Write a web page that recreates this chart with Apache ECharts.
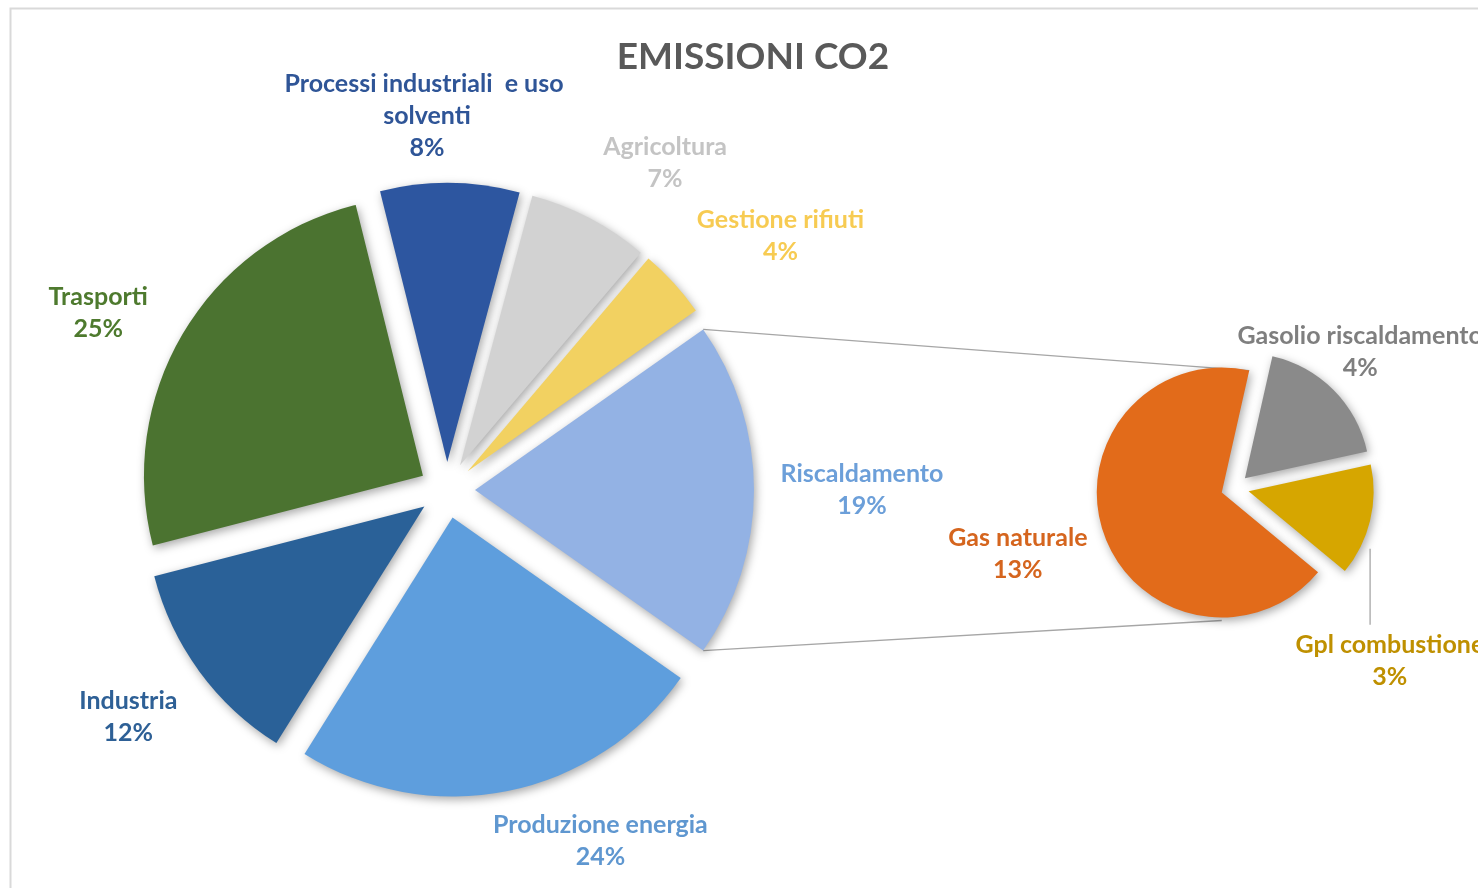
<!DOCTYPE html>
<html>
<head>
<meta charset="utf-8">
<script src="https://cdn.jsdelivr.net/npm/echarts@6/dist/echarts.min.js"></script>
<style>
html,body{margin:0;padding:0;background:#ffffff;}
#chart{width:1478px;height:888px;}
</style>
</head>
<body>
<div id="chart"></div>
<script>
// ---------- DATA ----------
const titleText = 'EMISSIONI CO2';
const mainCategories = ['Riscaldamento', 'Produzione energia', 'Industria', 'Trasporti',
  'Processi industriali  e uso solventi', 'Agricoltura', 'Gestione rifiuti'];
const mainValues = [19.4, 24, 12, 25, 8, 7, 4];          // % of total CO2
const subCategories = ['Gasolio riscaldamento', 'Gpl combustione', 'Gas naturale'];
const subValues = [3.5, 2.8, 13.1];                       // breakdown of Riscaldamento

// ---------- STYLE / LAYOUT ----------
const mainColors = ['#93B2E4', '#5E9EDD', '#2A6198', '#4B7330', '#2D56A0', '#D2D2D2', '#F2D161'];
const mainLabelColors = ['#6C9FD9', '#5F97D0', '#2E6096', '#4E7A2E', '#2F5597', '#C4C4C4', '#F7CB52'];
const subColors = ['#8A8A8A', '#D6A600', '#E26B1A'];
const subLabelColors = ['#7F7F7F', '#BF9000', '#D5651E'];
const MAIN = { cx: 447, cy: 490, r: 279, off: 28 };
const SUB = { cx: 1235, cy: 488, r: 125, off: 14, startCW: 12.7 };
// label placement: [angle shift from slice middle (deg), distance from pie centre (px)]
const mainLabelPlace = [[0, 415], [-12.2, 383], [0.8, 391], [-3.9, 391], [-3.6, 375], [6, 393], [5.1, 419]];
const subLabelPlace = [[-2.6, 185], [34.5, 232], [1.9, 227]];
const FONT = 'Lato';
const LABEL_FONT = 'bold 25px ' + FONT;

// ---------- GEOMETRY HELPERS ----------
const sum = a => a.reduce((s, v) => s + v, 0);
const mainStartCW = 90 - (mainValues[0] / sum(mainValues)) * 180; // "other" slice centred at 3 o'clock
function sliceAngles(values, startCW) {
  const tot = sum(values); let acc = startCW; const out = [];
  values.forEach(v => { const span = v / tot * 360; out.push({ s: acc, e: acc + span, m: acc + span / 2 }); acc += span; });
  return out;
}
const mainAng = sliceAngles(mainValues, mainStartCW);
const subAng = sliceAngles(subValues, SUB.startCW);
const rad = d => d * Math.PI / 180;
const polar = (cx, cy, r, deg) => [cx + r * Math.sin(rad(deg)), cy - r * Math.cos(rad(deg))];

function labelText(name, v) { return name + '\n' + Math.round(v) + '%'; }

function makeData(cats, vals, colors) {
  return cats.map((c, i) => ({
    name: c, value: vals[i], selected: true,
    itemStyle: { color: colors[i] }
  }));
}

const commonSeries = {
  type: 'pie',
  selectedMode: 'multiple',
  clockwise: true,
  emphasis: { disabled: true },
  select: { itemStyle: { borderWidth: 0 } },
  itemStyle: {
    borderWidth: 0,
    shadowBlur: 10, shadowColor: 'rgba(0,0,0,0.35)', shadowOffsetX: 2, shadowOffsetY: 3
  },
  label: { show: false },
  labelLine: { show: false }
};

// data labels as text elements, positioned from the slice geometry
function labelGraphics(cats, vals, ang, place, colors, P) {
  return cats.map((c, i) => {
    const pt = polar(P.cx, P.cy, place[i][1], ang[i].m + place[i][0]);
    return {
      type: 'text', z: 100,
      style: {
        text: labelText(c, vals[i]), x: pt[0], y: pt[1],
        align: 'center', verticalAlign: 'middle',
        font: LABEL_FONT, lineHeight: 32, fill: colors[i],
        width: 300, overflow: 'break'
      }
    };
  });
}

// connector lines derived from the layout
const risMainCentre = polar(MAIN.cx, MAIN.cy, MAIN.off, mainAng[0].m);
const pTop = polar(risMainCentre[0], risMainCentre[1], MAIN.r, mainAng[0].s);
const pBot = polar(risMainCentre[0], risMainCentre[1], MAIN.r, mainAng[0].e);
const gasCentre = polar(SUB.cx, SUB.cy, SUB.off, subAng[2].m);
const qTop = polar(gasCentre[0], gasCentre[1], SUB.r, subAng[2].e);
const qBot = polar(gasCentre[0], gasCentre[1], SUB.r + 3, 180);
const gplCentre = polar(SUB.cx, SUB.cy, SUB.off, subAng[1].m);
const gplArc = polar(gplCentre[0], gplCentre[1], SUB.r, subAng[1].m);
const gplLab = polar(SUB.cx, SUB.cy, subLabelPlace[1][1], subAng[1].m + subLabelPlace[1][0]);

const chart = echarts.init(document.getElementById('chart'));
chart.setOption({
  animation: false,
  backgroundColor: '#ffffff',
  title: {
    text: titleText, left: 748, top: 34, textAlign: 'center',
    textStyle: { fontFamily: FONT, fontWeight: 'bold', fontSize: 37, color: '#595959' }
  },
  graphic: [
    { type: 'rect', z: -10, shape: { x: 10.5, y: 8.5, width: 1600, height: 1000 },
      style: { fill: 'none', stroke: '#D9D9D9', lineWidth: 2 } },
    { type: 'line', z: 0, shape: { x1: pTop[0], y1: pTop[1], x2: qTop[0], y2: qTop[1] },
      style: { stroke: '#A6A6A6', lineWidth: 1.3 } },
    { type: 'line', z: 0, shape: { x1: pBot[0], y1: pBot[1], x2: qBot[0], y2: qBot[1] },
      style: { stroke: '#A6A6A6', lineWidth: 1.3 } },
    { type: 'line', z: 0, shape: { x1: gplArc[0], y1: gplArc[1] + 28, x2: gplArc[0], y2: gplLab[1] - 36 },
      style: { stroke: '#A6A6A6', lineWidth: 1.3 } }
  ].concat(
    labelGraphics(mainCategories, mainValues, mainAng, mainLabelPlace, mainLabelColors, MAIN),
    labelGraphics(subCategories, subValues, subAng, subLabelPlace, subLabelColors, SUB)
  ),
  series: [
    Object.assign({}, commonSeries, {
      name: 'main',
      center: [MAIN.cx, MAIN.cy], radius: MAIN.r,
      startAngle: 90 - mainStartCW,
      selectedOffset: MAIN.off,
      data: makeData(mainCategories, mainValues, mainColors)
    }),
    Object.assign({}, commonSeries, {
      name: 'sub',
      center: [SUB.cx, SUB.cy], radius: SUB.r,
      startAngle: 90 - SUB.startCW,
      selectedOffset: SUB.off,
      data: makeData(subCategories, subValues, subColors)
    })
  ]
});
</script>
</body>
</html>
